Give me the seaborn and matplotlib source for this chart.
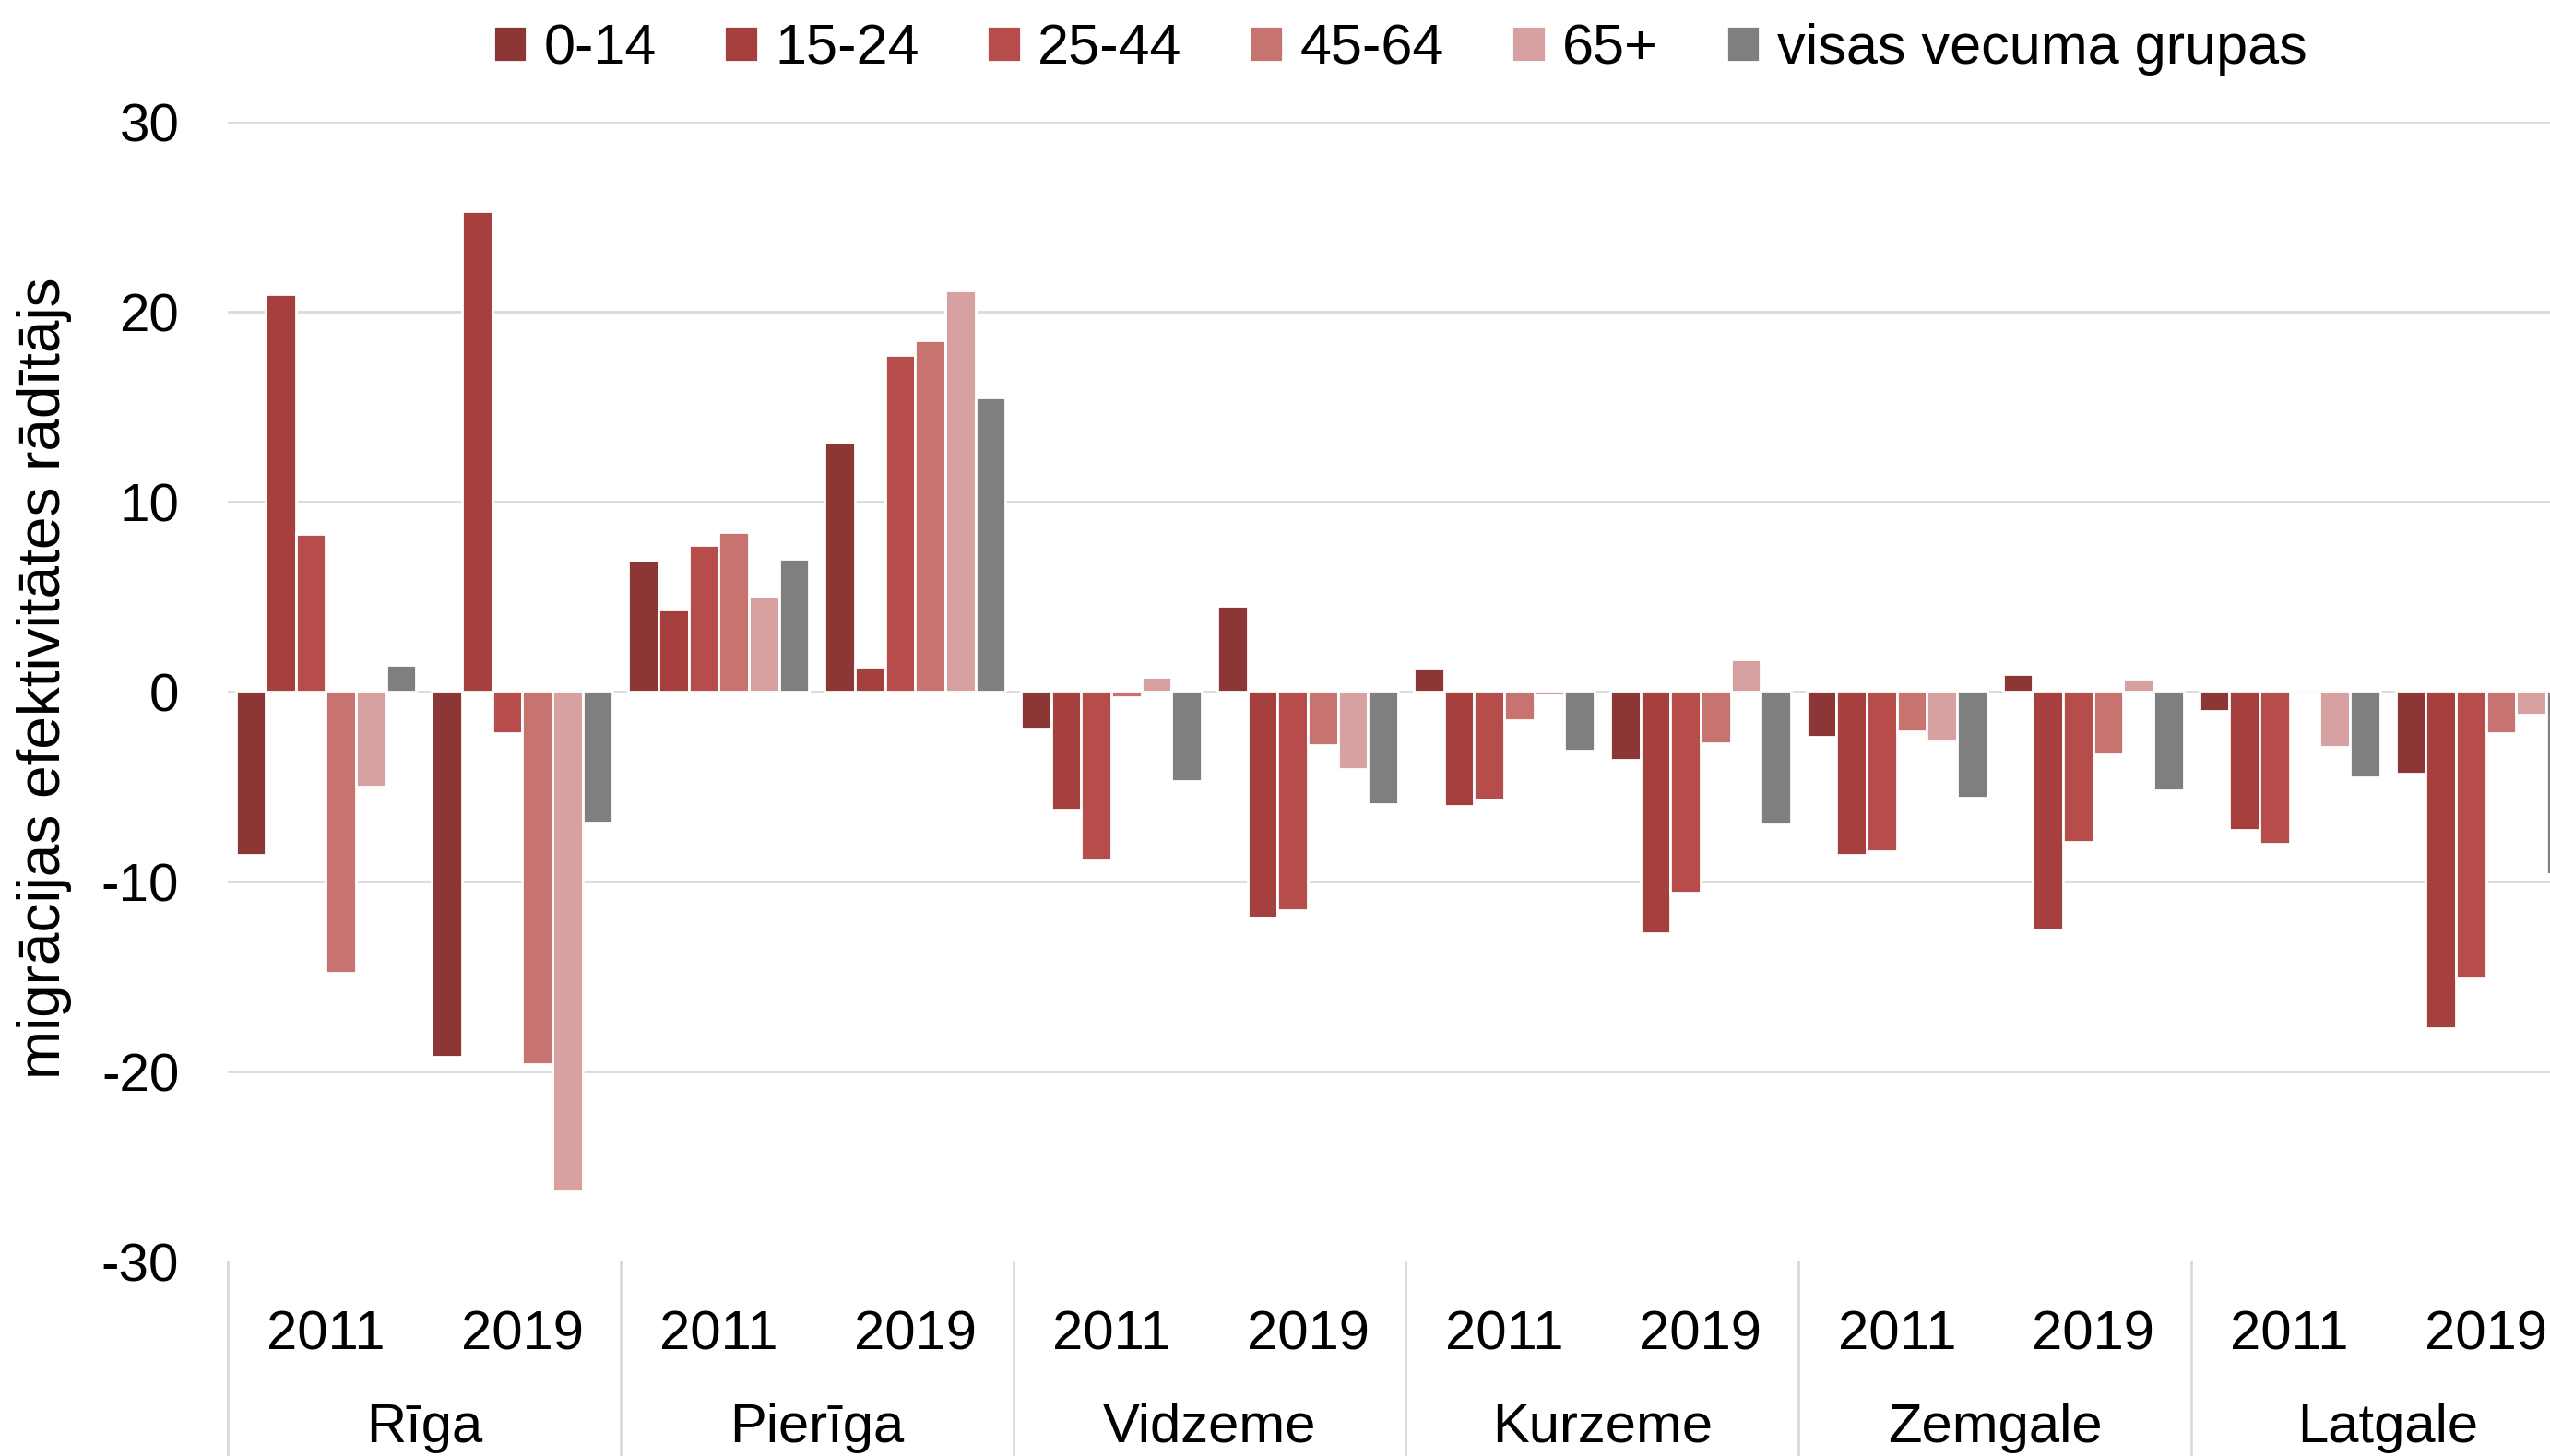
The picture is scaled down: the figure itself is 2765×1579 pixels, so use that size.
import numpy as np
import pandas as pd
import seaborn as sns
import matplotlib.pyplot as plt
from matplotlib.lines import Line2D
from matplotlib.transforms import blended_transform_factory

# data
regions = ["Rīga", "Pierīga", "Vidzeme", "Kurzeme", "Zemgale", "Latgale"]
years = ["2011", "2019"]
ages = ["0-14", "15-24", "25-44", "45-64", "65+", "visas vecuma grupas"]

v_0_14 = [-8.6, -19.2, 6.9, 13.1, -2.0, 4.5, 1.2, -3.6, -2.4, 0.9, -1.0, -4.3]
v_15_24 = [20.9, 25.3, 4.3, 1.3, -6.2, -11.9, -6.0, -12.7, -8.6, -12.5, -7.3, -17.7]
v_25_44 = [8.3, -2.2, 7.7, 17.7, -8.9, -11.5, -5.7, -10.6, -8.4, -7.9, -8.0, -15.1]
v_45_64 = [-14.8, -19.6, 8.4, 18.5, -0.3, -2.8, -1.5, -2.7, -2.1, -3.3, 0.0, -2.2]
v_65 = [-5.0, -26.3, 5.0, 21.1, 0.8, -4.1, -0.2, 1.7, -2.6, 0.7, -2.9, -1.2]
v_visas = [1.4, -6.9, 7.0, 15.5, -4.7, -5.9, -3.1, -7.0, -5.6, -5.2, -4.5, -9.6]

colors = ["#8C3636", "#A5403E", "#B74D4B", "#C77370", "#D8A1A1", "#7F7F7F"]

groups = [f"{r} {y}" for r in regions for y in years]
series = [v_0_14, v_15_24, v_25_44, v_45_64, v_65, v_visas]
df = pd.DataFrame({
    "grupa": np.tile(groups, len(ages)),
    "vecums": np.repeat(ages, len(groups)),
    "vertiba": np.concatenate(series),
})

sns.set_theme(style="white")
plt.rcParams["font.family"] = ["Liberation Sans", "DejaVu Sans"]
plt.rcParams["axes.unicode_minus"] = False
plt.rcParams["text.color"] = "black"
plt.rcParams["ytick.color"] = "black"

fig = plt.figure(figsize=(13.825, 7.895), dpi=200)
ax = fig.add_axes([247 / 2765, 0.1336, (2802 - 247) / 2765, 0.7828])

sns.barplot(data=df, x="grupa", y="vertiba", hue="vecums", order=groups, hue_order=ages,
            palette=dict(zip(ages, colors)), saturation=1, width=0.92, gap=0,
            errorbar=None, ax=ax, zorder=3)

ax.set_ylim(-30, 30)
ax.set_xlim(-0.5, len(groups) - 0.5)
ax.set_yticks([-30, -20, -10, 0, 10, 20, 30])
ax.tick_params(axis="y", labelsize=21, length=0, pad=19, labelcolor="black")
ax.set_xticks([])
ax.set_xlabel("")
ax.set_ylabel("")
for s in ax.spines.values():
    s.set_visible(False)
ax.grid(axis="y", color="#D9D9D9", linewidth=1.0)
ax.set_axisbelow(True)

# category axis below
tr = blended_transform_factory(ax.transData, fig.transFigure)
for i, g in enumerate(groups):
    ax.text(i, 1 - 1464 / 1579, g.split()[1], transform=tr, ha="center", va="baseline",
            fontsize=21.5, color="black")
for k, r in enumerate(regions):
    ax.text(2 * k + 0.5, 1 - 1564 / 1579, r, transform=tr, ha="center", va="baseline",
            fontsize=21.5, color="black")
for k in range(len(regions) + 1):
    ax.add_line(Line2D([2 * k - 0.5, 2 * k - 0.5], [0, 0.1336], transform=tr,
                       color="#D9D9D9", linewidth=1.0, clip_on=False))

fig.text(48 / 2765, 0.5345, "migrācijas efektivitātes rādītājs", rotation=90,
         ha="center", va="center", fontsize=23, color="black")

handles, labels = ax.get_legend_handles_labels()
ax.legend(handles, labels, ncol=6, loc="center", bbox_to_anchor=(0.549, 0.966),
          bbox_transform=fig.transFigure, frameon=False, fontsize=22,
          handlelength=0.6, handleheight=0.6, handletextpad=0.3, columnspacing=1.2)

fig.savefig("out.png", dpi=200)
